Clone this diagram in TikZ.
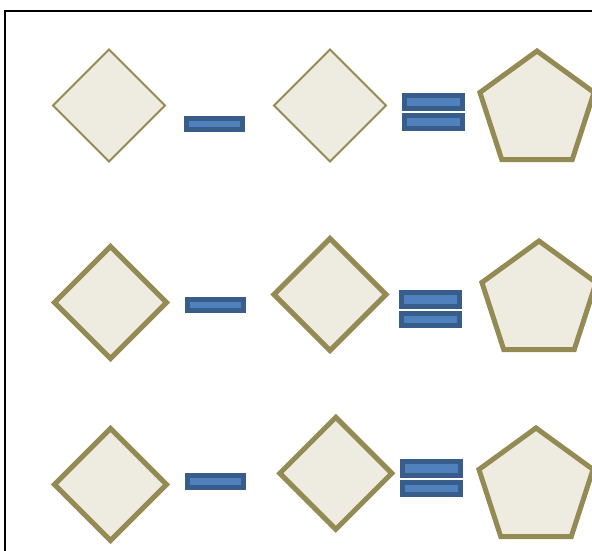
\documentclass[tikz,border=0pt]{standalone}
\usetikzlibrary{shapes.geometric}
\definecolor{tanfill}{HTML}{EEECE1}
\definecolor{olive}{HTML}{948A54}
\definecolor{barfill}{HTML}{4F81BD}
\definecolor{barline}{HTML}{385D8A}
\begin{document}
\begin{tikzpicture}[x=1pt,y=-1pt,
  dia/.style={diamond,draw=olive,fill=tanfill,inner sep=0pt,outer sep=0pt,minimum size=112pt,line join=miter},
  thindia/.style={dia,line width=2pt},
  thickdia/.style={dia,line width=5pt},
  penta/.style={regular polygon,regular polygon sides=5,draw=olive,fill=tanfill,line width=5pt,inner sep=0pt,outer sep=0pt,minimum size=120pt,line join=miter},
  bar/.style={rectangle,draw=barline,fill=barfill,line width=5pt,inner sep=0pt,outer sep=0pt,minimum width=56pt},
  eqbar/.style={bar,minimum width=58pt}
]
\useasboundingbox (0,0) rectangle (592,551);
\draw[line width=2.5pt] (5,11) rectangle (620,580);
% row 1
\node[thindia] (d11) at (109,105.5) {};
\node[bar,minimum height=11.6pt] (m1) at (214.6,124) {};
\node[thindia] (d12) at (330,105.5) {};
\node[eqbar,minimum height=13.3pt] (e1a) at (433.6,101.8) {};
\node[eqbar,minimum height=12.4pt] (e1b) at (433.6,122) {};
\node[penta] (p1) at (537,111) {};
% row 2
\node[thickdia] (d21) at (110.5,302.5) {};
\node[bar,minimum height=11.6pt] (m2) at (215.5,305) {};
\node[thickdia] (d22) at (330,294.5) {};
\node[eqbar,minimum height=14.3pt] (e2a) at (430.8,299.6) {};
\node[eqbar,minimum height=12.6pt] (e2b) at (430.8,319.5) {};
\node[penta] (p2) at (539,301) {};
% row 3
\node[thickdia] (d31) at (110.5,484.5) {};
\node[bar,minimum height=12.3pt] (m3) at (215.3,481.3) {};
\node[thickdia] (d32) at (335.8,473.3) {};
\node[eqbar,minimum height=14pt] (e3a) at (431.3,468.8) {};
\node[eqbar,minimum height=12.3pt] (e3b) at (431.3,488.6) {};
\node[penta] (p3) at (536,488) {};
\end{tikzpicture}
\end{document}
